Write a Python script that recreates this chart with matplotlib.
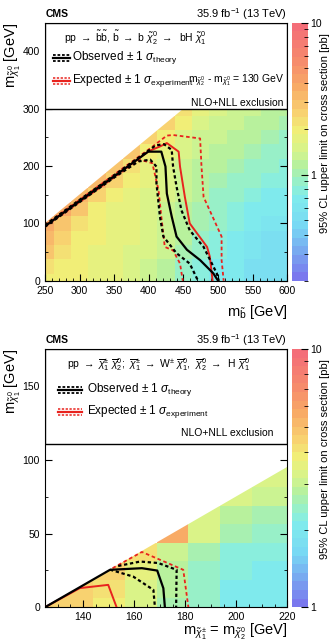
import numpy as np
import matplotlib
matplotlib.use('Agg')
import matplotlib.pyplot as plt
from matplotlib.colors import LinearSegmentedColormap, LogNorm
from matplotlib.patches import Rectangle, Polygon
from matplotlib.ticker import MultipleLocator, LogLocator, NullFormatter

plt.rcParams['font.family'] = ['Liberation Sans', 'DejaVu Sans']
plt.rcParams['mathtext.fontset'] = 'custom'
plt.rcParams['mathtext.rm'] = 'Liberation Sans'
plt.rcParams['mathtext.it'] = 'Liberation Sans:italic'
plt.rcParams['mathtext.bf'] = 'Liberation Sans:bold'

nan = np.nan

# ---- верхняя панель: sbottom -> b chi2 -> b H chi1 ----
sb_mass = np.arange(250, 601, 25)          # центры ячеек по x
sb_lsp = np.arange(0, 301, 25)             # центры ячеек по y
sb_limit = np.array([
    [2.0, 2.0, 1.9, 1.8, 1.7, 1.6, 1.4, 1.2, 0.95, 0.8, 0.7, 0.65, 0.55, 0.5, 0.5],
    [2.1, 2.0, 1.9, 1.8, 1.7, 1.6, 1.4, 1.2, 0.95, 0.8, 0.7, 0.65, 0.55, 0.5, 0.5],
    [3.0, 2.2, 2.0, 1.8, 1.7, 1.6, 1.5, 1.3, 1.0, 0.85, 0.75, 0.65, 0.6, 0.5, 0.5],
    [3.5, 2.6, 2.0, 1.9, 1.8, 1.7, 1.5, 1.3, 1.1, 0.9, 0.8, 0.7, 0.6, 0.55, 0.55],
    [4.0, 3.0, 2.2, 1.9, 1.8, 1.7, 1.5, 1.4, 1.15, 1.0, 0.85, 0.75, 0.65, 0.6, 0.6],
    [nan, 3.8, 2.8, 2.0, 1.8, 1.7, 1.6, 1.4, 1.2, 1.05, 0.9, 0.8, 0.7, 0.65, 0.65],
    [nan, nan, 3.5, 2.6, 2.0, 1.8, 1.6, 1.5, 1.3, 1.1, 0.95, 0.85, 0.8, 0.7, 0.7],
    [nan, nan, nan, 3.2, 2.4, 1.9, 1.7, 1.5, 1.35, 1.15, 1.0, 0.95, 0.85, 0.8, 0.75],
    [nan, nan, nan, nan, 3.0, 2.2, 1.8, 1.6, 1.4, 1.2, 1.1, 1.0, 0.9, 0.85, 0.8],
    [nan, nan, nan, nan, nan, 2.8, 2.0, 1.7, 1.45, 1.3, 1.2, 1.1, 1.0, 0.95, 0.9],
    [nan, nan, nan, nan, nan, nan, 2.6, 2.0, 1.6, 1.4, 1.3, 1.2, 1.1, 1.0, 0.95],
    [nan, nan, nan, nan, nan, nan, nan, 2.4, 1.9, 1.6, 1.4, 1.3, 1.2, 1.1, 1.0],
    [nan, nan, nan, nan, nan, nan, nan, nan, 2.2, 1.8, 1.5, 1.4, 1.3, 1.2, 1.1],
])

sb_obs_x = [250, 300, 350, 399, 418, 424, 426, 433, 440, 455, 474, 493, 500]
sb_obs_y = [95, 139, 182, 225, 225, 199, 152, 112, 77, 54, 36, 13, 0]
sb_obs_up_x = [250, 300, 350, 410, 422, 433, 435, 440, 447, 459, 479, 498, 501]
sb_obs_up_y = [97, 141, 184, 236, 238, 228, 199, 164, 123, 88, 59, 13, 0]
sb_obs_dn_x = [250, 300, 350, 385, 402, 411, 411, 416, 421, 440, 459, 471]
sb_obs_dn_y = [94, 137, 180, 208, 211, 199, 170, 112, 77, 48, 30, 0]
sb_exp_x = [250, 300, 350, 400, 416, 426, 443, 445, 452, 459, 484, 488, 492]
sb_exp_y = [95, 139, 182, 226, 234, 240, 225, 199, 146, 100, 59, 42, 0]
sb_exp_up_x = [250, 300, 350, 400, 426, 435, 474, 476, 479, 493, 505, 505, 508]
sb_exp_up_y = [97, 141, 185, 229, 253, 254, 248, 199, 146, 109, 77, 36, 0]
sb_exp_dn_x = [250, 300, 350, 387, 405, 414, 418, 423, 435, 445, 449]
sb_exp_dn_y = [94, 137, 180, 211, 205, 158, 112, 59, 53, 30, 0]

# ---- нижняя панель: chargino-neutralino -> W H ----
wh_mass = np.arange(125, 226, 12.5)
wh_lsp = np.arange(0, 101, 12.5)
wh_limit = np.array([
    [4.6, 4.5, 3.8, 3.2, 2.7, 2.4, 2.1, 2.0, 2.0],
    [nan, 4.6, 4.0, 3.3, 2.8, 2.4, 2.1, 2.0, 2.0],
    [nan, nan, 4.4, 3.6, 2.9, 2.5, 2.2, 2.1, 2.1],
    [nan, nan, nan, 4.0, 3.0, 2.6, 2.3, 2.2, 2.2],
    [nan, nan, nan, nan, 5.5, 3.3, 2.6, 2.4, 2.4],
    [nan, nan, nan, nan, nan, 3.4, 2.9, 2.7, 2.7],
    [nan, nan, nan, nan, nan, nan, 3.2, 3.1, 3.1],
    [nan, nan, nan, nan, nan, nan, nan, 3.3, 3.3],
    [nan, nan, nan, nan, nan, nan, nan, nan, 3.4],
])

wh_obs_x = [125, 150.5, 163, 169, 171.4, 172]
wh_obs_y = [0, 25.4, 26.5, 24.9, 12.9, 0]
wh_obs_up_x = [153.7, 162.3, 169.4, 176.6, 176.4]
wh_obs_up_y = [28, 31, 30, 25.4, 0]
wh_obs_dn_x = [150.5, 159.6, 167.5, 168.1]
wh_obs_dn_y = [25.5, 20.8, 11.8, 0]
wh_exp_x = [125, 138.7, 149.8, 153.1]
wh_exp_y = [0, 13, 15.2, 0]
wh_exp_up_x = [151.5, 163, 179.2, 181.2]
wh_exp_up_y = [26.5, 37.5, 25.4, 0]

# палитра как у ROOT с прозрачностью
anchors = [(0.0, '#7a78ee'), (0.1, '#78a8f0'), (0.2, '#78d8f4'), (0.32, '#80ecec'),
           (0.38, '#98f0c8'), (0.44, '#b4f0a0'), (0.5, '#d4f48c'), (0.58, '#f0f078'),
           (0.66, '#f8d070'), (0.76, '#f8aa66'), (0.86, '#f68c6c'), (1.0, '#f46e78')]
cmap = LinearSegmentedColormap.from_list('lim', anchors, N=30)


def edges(c, step):
    return np.append(c - step / 2, c[-1] + step / 2)


def panel(ax, cax, xc, yc, z, step, zlim, offset, xlim, ylim, box_y):
    mesh = ax.pcolormesh(edges(xc, step), edges(yc, step), z, cmap=cmap,
                         norm=LogNorm(*zlim), shading='flat', zorder=1)
    tri = Polygon([(xlim[0], 0), (xlim[1], 0), (xlim[1], xlim[1] - offset),
                   (xlim[0], xlim[0] - offset)], transform=ax.transData)
    mesh.set_clip_path(tri)
    ax.set_xlim(*xlim)
    ax.set_ylim(*ylim)
    cb = plt.colorbar(mesh, cax=cax)
    cb.outline.set_visible(False)
    cb.set_ticks([1, 10])
    cb.set_ticklabels(['1', '10'])
    cax.yaxis.set_minor_locator(LogLocator(subs=np.arange(2, 10)))
    cax.yaxis.set_minor_formatter(NullFormatter())
    cax.tick_params(which='both', direction='in', labelsize=7.5, pad=2)
    cax.tick_params(which='major', length=5)
    cax.tick_params(which='minor', length=3)
    ax.tick_params(which='both', direction='in', right=True, labelsize=7.5)
    ax.tick_params(which='major', length=5)
    ax.tick_params(which='minor', length=2.5)
    # легенда в белой рамке
    ax.add_patch(Rectangle((0, box_y), 1, 1 - box_y, transform=ax.transAxes,
                           facecolor='white', edgecolor='black', lw=1, zorder=5))
    ax.text(-0.132, 1.0, r'm$_{\tilde{\chi}^{0}_{1}}$ [GeV]', transform=ax.transAxes,
            rotation=90, ha='center', va='top', fontsize=10.5)


def legend_sym(ax, x0, x1, y, color, lw_dash):
    d = 0.012
    ax.plot([x0, x1], [y, y], color=color, lw=1.6, transform=ax.transAxes, zorder=6)
    for dy in (d, -d):
        ax.plot([x0, x1], [y + dy, y + dy], color=color, lw=lw_dash, ls=(0, (1.5, 1)),
                transform=ax.transAxes, zorder=6)


fig = plt.figure(figsize=(3.35, 6.44), dpi=100)
ax1 = fig.add_axes([0.134, 0.564, 0.724, 0.401])
cax1 = fig.add_axes([0.872, 0.564, 0.047, 0.401])
ax2 = fig.add_axes([0.134, 0.057, 0.724, 0.401])
cax2 = fig.add_axes([0.872, 0.057, 0.047, 0.401])

# верхняя панель
panel(ax1, cax1, sb_mass, sb_lsp, sb_limit, 25, (0.2, 10), 150, (250, 600), (0, 450), 2 / 3)
ax1.xaxis.set_major_locator(MultipleLocator(50))
ax1.xaxis.set_minor_locator(MultipleLocator(10))
ax1.yaxis.set_major_locator(MultipleLocator(100))
ax1.yaxis.set_minor_locator(MultipleLocator(50))
ax1.set_yticks([0, 100, 200, 300, 400])
ax1.plot(sb_obs_x, sb_obs_y, color='black', lw=1.6, zorder=4)
ax1.plot(sb_obs_up_x, sb_obs_up_y, color='black', lw=1.6, ls=(0, (1.5, 1.2)), zorder=4)
ax1.plot(sb_obs_dn_x, sb_obs_dn_y, color='black', lw=1.6, ls=(0, (1.5, 1.2)), zorder=4)
ax1.plot(sb_exp_x, sb_exp_y, color='#e8231e', lw=1.4, zorder=3)
ax1.plot(sb_exp_up_x, sb_exp_up_y, color='#e8231e', lw=1.3, ls=(0, (2, 1.5)), zorder=3)
ax1.plot(sb_exp_dn_x, sb_exp_dn_y, color='#e8231e', lw=1.3, ls=(0, (2, 1.5)), zorder=3)

ax1.text(0.078, 0.94, r'pp $\rightarrow$ $\tilde{\mathrm{b}}\tilde{\mathrm{b}}$, $\tilde{\mathrm{b}}$ $\rightarrow$ b $\tilde{\chi}^{0}_{2}$ $\rightarrow$  bH $\tilde{\chi}^{0}_{1}$',
         transform=ax1.transAxes, fontsize=7.5, va='center', zorder=6)
legend_sym(ax1, 0.033, 0.103, 0.863, 'black', 1.3)
ax1.text(0.111, 0.863, r'Observed $\pm$ 1 $\sigma_{\mathrm{theory}}$', transform=ax1.transAxes,
         fontsize=8.5, va='center', zorder=6)
legend_sym(ax1, 0.033, 0.103, 0.774, '#e8231e', 1.1)
ax1.text(0.111, 0.774, r'Expected $\pm$ 1 $\sigma_{\mathrm{experiment}}$', transform=ax1.transAxes,
         fontsize=8.5, va='center', zorder=6)
ax1.text(0.985, 0.778, r'm$_{\tilde{\chi}^{0}_{2}}$ - m$_{\tilde{\chi}^{0}_{1}}$ = 130 GeV',
         transform=ax1.transAxes, fontsize=7.5, ha='right', va='center', zorder=6)
ax1.text(0.982, 0.689, 'NLO+NLL exclusion', transform=ax1.transAxes, fontsize=7.5,
         ha='right', va='center', zorder=6)
ax1.text(1.0, -0.121, r'm$_{\tilde{\mathrm{b}}}$ [GeV]', transform=ax1.transAxes,
         ha='right', va='center', fontsize=10.5)

# нижняя панель
panel(ax2, cax2, wh_mass, wh_lsp, wh_limit, 12.5, (1, 10), 125, (125, 220), (0, 175), 0.632)
ax2.set_xticks([140, 160, 180, 200, 220])
ax2.xaxis.set_minor_locator(MultipleLocator(5))
ax2.set_yticks([0, 50, 100, 150])
ax2.yaxis.set_minor_locator(MultipleLocator(25))
ax2.plot(wh_obs_x, wh_obs_y, color='black', lw=1.6, zorder=4)
ax2.plot(wh_obs_up_x, wh_obs_up_y, color='black', lw=1.6, ls=(0, (1.5, 1.2)), zorder=4)
ax2.plot(wh_obs_dn_x, wh_obs_dn_y, color='black', lw=1.6, ls=(0, (1.5, 1.2)), zorder=4)
ax2.plot(wh_exp_x, wh_exp_y, color='#e8231e', lw=1.4, zorder=3)
ax2.plot(wh_exp_up_x, wh_exp_up_y, color='#e8231e', lw=1.3, ls=(0, (2, 1.5)), zorder=3)

ax2.text(0.091, 0.939, r'pp $\rightarrow$ $\overline{\chi}^{\pm}_{1}$ $\overline{\chi}^{0}_{2}$;  $\overline{\chi}^{\pm}_{1}$ $\rightarrow$ W$^{\pm}$ $\overline{\chi}^{0}_{1}$,  $\overline{\chi}^{0}_{2}$ $\rightarrow$  H $\overline{\chi}^{0}_{1}$',
         transform=ax2.transAxes, fontsize=7.5, va='center', zorder=6)
legend_sym(ax2, 0.054, 0.153, 0.842, 'black', 1.3)
ax2.text(0.173, 0.842, r'Observed $\pm$ 1 $\sigma_{\mathrm{theory}}$', transform=ax2.transAxes,
         fontsize=8.5, va='center', zorder=6)
legend_sym(ax2, 0.054, 0.153, 0.757, '#e8231e', 1.1)
ax2.text(0.173, 0.757, r'Expected $\pm$ 1 $\sigma_{\mathrm{experiment}}$', transform=ax2.transAxes,
         fontsize=8.5, va='center', zorder=6)
ax2.text(0.94, 0.676, 'NLO+NLL exclusion', transform=ax2.transAxes, fontsize=7.5,
         ha='right', va='center', zorder=6)
ax2.text(1.0, -0.096, r'm$_{\tilde{\chi}^{\pm}_{1}}$ = m$_{\tilde{\chi}^{0}_{2}}$ [GeV]',
         transform=ax2.transAxes, ha='right', va='center', fontsize=10.5)

# подписи CMS и светимость
for ytop in (0.978, 0.472):
    fig.text(0.137, ytop, 'CMS', fontweight='bold', fontsize=7.5, va='center')
    fig.text(0.857, ytop, r'35.9 fb$^{-1}$ (13 TeV)', fontsize=8, ha='right', va='center')

for ax in (ax1, ax2):
    pos = ax.get_position()
    fig.text(0.970, pos.y0 + pos.height / 2 + 19 / 644, '95% CL upper limit on cross section [pb]',
             rotation=90, ha='center', va='center', fontsize=8)

fig.savefig('out.png', dpi=100)
